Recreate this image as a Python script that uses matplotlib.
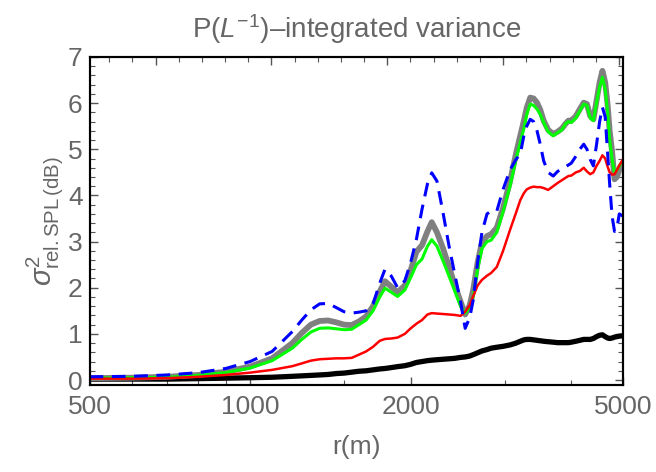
import numpy as np
import matplotlib
matplotlib.use("Agg")
import matplotlib.pyplot as plt

plt.rcParams['font.family'] = ['Liberation Sans', 'DejaVu Sans']
plt.rcParams['mathtext.fontset'] = 'custom'
plt.rcParams['mathtext.rm'] = 'Liberation Sans'
plt.rcParams['mathtext.it'] = 'Liberation Sans:italic'
plt.rcParams['mathtext.bf'] = 'Liberation Sans:bold'

# ---- data ----
r = [500, 600, 700, 800, 900, 1000, 1100, 1200, 1250, 1300, 1350, 1400, 1450, 1500, 1550,
     1600, 1650, 1700, 1750, 1790, 1840, 1890, 1950, 2000, 2050, 2100, 2150, 2190, 2240, 2300,
     2360, 2420, 2480, 2530, 2580, 2620, 2670, 2720, 2780, 2830, 2900, 2980, 3070, 3150, 3210,
     3260, 3300, 3350, 3400, 3450, 3500, 3550, 3620, 3700, 3770, 3840, 3900, 3950, 4000, 4080,
     4150, 4220, 4280, 4340, 4400, 4460, 4520, 4575, 4630, 4680, 4720, 4770, 4820, 4870, 4920, 5000]

total_gray = [0.04, 0.05, 0.07, 0.11, 0.18, 0.29, 0.47, 0.80, 1.02, 1.20, 1.28, 1.29, 1.25, 1.20, 1.19,
              1.27, 1.38, 1.60, 1.92, 2.14, 2.02, 1.90, 2.05, 2.38, 2.78, 2.92, 3.22, 3.42, 3.20, 2.85,
              2.45, 2.05, 1.70, 1.42, 1.62, 1.96, 2.55, 2.98, 3.12, 3.16, 3.30, 3.73, 4.30, 4.90, 5.30,
              5.62, 5.90, 6.12, 6.10, 6.01, 5.85, 5.62, 5.42, 5.33, 5.38, 5.45, 5.55, 5.62, 5.62, 5.72,
              5.87, 6.01, 5.98, 5.72, 5.65, 6.05, 6.45, 6.70, 6.45, 5.95, 5.40, 4.95, 4.35, 4.40, 4.55, 4.71]

green = [0.04, 0.05, 0.06, 0.10, 0.16, 0.26, 0.42, 0.69, 0.88, 1.04, 1.12, 1.13, 1.11, 1.09, 1.10,
         1.20, 1.30, 1.50, 1.80, 1.99, 1.90, 1.81, 1.95, 2.22, 2.50, 2.62, 2.90, 3.04, 2.90, 2.58,
         2.25, 1.92, 1.60, 1.45, 1.55, 1.81, 2.40, 2.85, 3.00, 3.03, 3.20, 3.65, 4.20, 4.78, 5.15,
         5.45, 5.75, 5.98, 5.95, 5.87, 5.75, 5.58, 5.38, 5.29, 5.36, 5.42, 5.55, 5.60, 5.58, 5.68,
         5.83, 5.98, 5.95, 5.68, 5.62, 6.00, 6.35, 6.56, 6.30, 5.80, 5.20, 4.78, 4.49, 4.55, 4.64, 4.75]

blue_dashed = [0.07, 0.08, 0.11, 0.16, 0.25, 0.40, 0.62, 1.05, 1.30, 1.52, 1.65, 1.66, 1.57, 1.48, 1.45,
               1.47, 1.50, 1.65, 2.10, 2.40, 2.25, 2.00, 2.15, 2.55, 3.05, 3.70, 4.25, 4.49, 4.31, 3.62,
               2.90, 2.28, 1.70, 1.12, 1.35, 1.74, 2.55, 3.20, 3.60, 3.66, 3.66, 4.13, 4.55, 4.78, 4.90,
               5.30, 5.50, 5.65, 5.60, 5.40, 5.10, 4.75, 4.50, 4.42, 4.52, 4.58, 4.62, 4.66, 4.70, 4.85,
               5.00, 5.11, 5.00, 4.78, 4.64, 5.10, 5.60, 5.91, 5.70, 4.90, 4.25, 3.55, 3.22, 3.28, 3.60, 3.55]

red = [0.03, 0.03, 0.04, 0.07, 0.11, 0.16, 0.22, 0.30, 0.36, 0.42, 0.45, 0.46, 0.47, 0.47, 0.48,
       0.55, 0.62, 0.72, 0.85, 0.89, 0.90, 0.92, 1.00, 1.12, 1.22, 1.30, 1.42, 1.45, 1.44, 1.43,
       1.42, 1.41, 1.39, 1.48, 1.62, 1.82, 2.05, 2.17, 2.26, 2.32, 2.45, 2.80, 3.25, 3.62, 3.90,
       4.05, 4.13, 4.17, 4.19, 4.18, 4.18, 4.16, 4.12, 4.20, 4.27, 4.33, 4.38, 4.42, 4.43, 4.50,
       4.53, 4.60, 4.52, 4.46, 4.50, 4.64, 4.75, 4.87, 4.80, 4.62, 4.50, 4.45, 4.46, 4.55, 4.65, 4.78]

black = [0.02, 0.02, 0.02, 0.03, 0.04, 0.05, 0.06, 0.08, 0.09, 0.10, 0.11, 0.12, 0.14, 0.15, 0.17,
         0.19, 0.20, 0.22, 0.24, 0.25, 0.27, 0.29, 0.31, 0.34, 0.38, 0.40, 0.42, 0.43, 0.44, 0.45,
         0.46, 0.47, 0.49, 0.50, 0.52, 0.55, 0.59, 0.63, 0.66, 0.69, 0.71, 0.73, 0.76, 0.80, 0.84,
         0.87, 0.88, 0.88, 0.87, 0.86, 0.85, 0.84, 0.83, 0.82, 0.81, 0.81, 0.81, 0.81, 0.82, 0.84,
         0.86, 0.88, 0.88, 0.88, 0.90, 0.94, 0.97, 0.98, 0.94, 0.91, 0.90, 0.91, 0.93, 0.94, 0.95, 0.96]

x_major = [500, 1000, 2000, 5000]
x_minor = [600, 700, 800, 900, 1500, 3000, 4000]
top_major_ln = [6.5, 7.0, 7.5, 8.0, 8.5]
y_major = [0, 1, 2, 3, 4, 5, 6, 7]

# ---- figure ----
W, H = 656, 472
fig = plt.figure(figsize=(W / 100, H / 100), dpi=100)
left, right, top, bottom = 89.5, 623, 57, 385
ax = fig.add_axes([left / W, 1 - bottom / H, (right - left) / W, (bottom - top) / H])

TXT = '#666666'

ax.plot(r, black, color='black', lw=3.8, solid_capstyle='round', zorder=2)
ax.plot(r, total_gray, color='#808080', lw=4.2, solid_capstyle='round', zorder=3)
ax.plot(r, green, color='#00ff00', lw=2.2, zorder=4)
ax.plot(r, red, color='#ff0000', lw=1.8, zorder=5)
ax.plot(r, blue_dashed, color='#0000ff', lw=2.2, dashes=(4.5, 2.8), zorder=6)

ax.set_xscale('log')
ax.set_xlim(500, 5000)
ax.set_ylim(-0.108, 7.0)

ax.set_xticks(x_major)
ax.set_xticklabels([str(v) for v in x_major])
ax.set_xticks(x_minor, minor=True)
ax.set_xticklabels([], minor=True)
ax.set_yticks(y_major)
ax.set_yticklabels([str(v) for v in y_major])
ax.set_yticks(np.arange(0, 7.01, 0.2), minor=True)

for s in ax.spines.values():
    s.set_linewidth(1.5)
    s.set_color('black')

ax.tick_params(which='both', direction='in', colors='#555555', labelcolor=TXT,
               labelsize=19, bottom=True, top=False, left=True, right=True)
ax.tick_params(which='major', length=6, width=1.0)
ax.tick_params(which='minor', length=3.5, width=0.8)
ax.tick_params(axis='x', which='major', pad=7)
ax.tick_params(axis='y', which='major', pad=5)

# top frame ticks (linear in ln r, Mathematica style)
axt = ax.twiny()
axt.set_xscale('log')
axt.set_xlim(ax.get_xlim())
axt.set_xticks([float(np.exp(v)) for v in top_major_ln])
axt.set_xticks([float(np.exp(v)) for v in np.arange(6.3, 8.5, 0.1)], minor=True)
axt.set_xticklabels([])
axt.set_xticklabels([], minor=True)
axt.tick_params(which='both', direction='in', colors='#555555', top=True, bottom=False)
axt.tick_params(which='major', length=6, width=1.0)
axt.tick_params(which='minor', length=3.5, width=0.8)
for s in axt.spines.values():
    s.set_linewidth(1.5)

ax.set_title(r'P($L^{-1}$)–integrated variance', color=TXT, fontsize=20, pad=14)
ax.set_xlabel('r(m)', color=TXT, fontsize=19, labelpad=12)
ax.set_ylabel(r'$\sigma^{2}_{\mathrm{rel.SPL}\,\mathrm{(dB)}}$', color=TXT, fontsize=21, labelpad=2)

fig.savefig('out.png', dpi=100)
